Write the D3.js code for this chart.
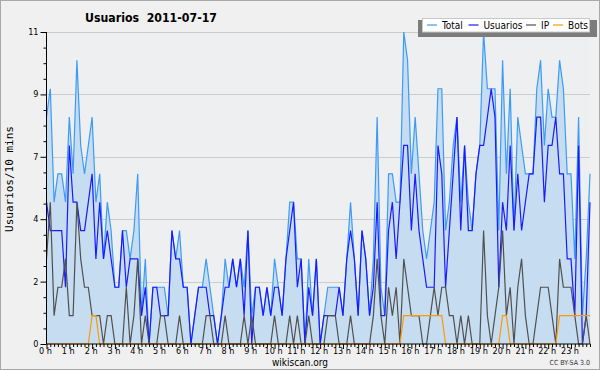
<!DOCTYPE html>
<html>
<head>
<meta charset="utf-8">
<script src="https://cdn.jsdelivr.net/npm/d3@7"></script>
<style>
	body { margin: 0; background: #f0f0f0; }
	svg text { font-family: "DejaVu Sans Condensed", "DejaVu Sans", sans-serif; font-stretch: condensed; }
</style>
</head>
<body>
<svg width="600" height="370"></svg>
<script>
// 10-minute slots, 2011-07-17
var hourLabels = d3.range(0, 24).map(function (h) { return h + " h"; });
var yTickLabels = ["0", "2", "4", "7", "9", "11"];

var total = [
	8, 9, 5, 6, 6, 5, 8, 6, 10, 7, 6, 7, 8, 5, 6, 3, 5, 4, 2, 2, 4, 4, 3, 4,
	6, 1, 3, 0, 2, 2, 2, 2, 1, 4, 3, 4, 2, 2, 0, 1, 2, 2, 3, 2, 1, 0, 1, 3,
	2, 3, 2, 3, 2, 4, 1, 2, 2, 1, 2, 1, 3, 2, 1, 3, 5, 5, 3, 3, 0, 3, 1, 3,
	0, 1, 2, 2, 2, 2, 1, 3, 5, 3, 1, 4, 3, 1, 3, 8, 2, 1, 6, 6, 5, 5, 11, 10,
	6, 8, 6, 4, 3, 4, 5, 9, 9, 4, 5, 7, 8, 5, 7, 5, 4, 6, 7, 11, 9, 9, 9, 4,
	10, 6, 9, 4, 8, 7, 6, 6, 6, 9, 10, 7, 9, 8, 8, 10, 9, 6, 6, 3, 8, 1, 3, 6
];
var usuarios = [
	5, 4, 4, 4, 4, 2, 7, 5, 5, 4, 4, 5, 6, 3, 5, 3, 4, 3, 2, 2, 4, 2, 3, 3,
	3, 1, 2, 0, 2, 2, 1, 1, 1, 4, 3, 3, 2, 2, 0, 1, 2, 2, 2, 1, 1, 0, 1, 2,
	2, 3, 2, 3, 1, 4, 0, 2, 2, 1, 2, 1, 2, 2, 1, 3, 4, 5, 2, 3, 0, 2, 1, 3,
	0, 1, 1, 1, 1, 2, 1, 3, 4, 3, 1, 4, 3, 1, 2, 5, 1, 1, 4, 5, 3, 5, 7, 7,
	4, 6, 4, 3, 2, 2, 2, 7, 6, 2, 4, 6, 8, 4, 7, 4, 4, 6, 7, 7, 8, 9, 8, 2,
	5, 4, 7, 4, 6, 4, 5, 6, 6, 8, 8, 5, 7, 7, 8, 6, 6, 3, 3, 1, 7, 0, 1, 5
];
var ip = [
	3, 5, 1, 2, 2, 3, 1, 1, 5, 3, 2, 2, 1, 1, 1, 0, 1, 1, 0, 0, 0, 2, 0, 1,
	3, 0, 1, 0, 0, 0, 1, 1, 0, 0, 0, 1, 0, 0, 0, 0, 0, 0, 1, 1, 0, 0, 0, 1,
	0, 0, 0, 0, 1, 0, 1, 0, 0, 0, 0, 0, 1, 0, 0, 0, 1, 0, 1, 0, 0, 1, 0, 0,
	0, 0, 1, 1, 1, 0, 0, 0, 1, 0, 0, 0, 0, 0, 1, 3, 1, 0, 2, 1, 2, 0, 3, 2,
	1, 1, 1, 0, 0, 1, 2, 1, 2, 2, 1, 1, 0, 1, 0, 1, 0, 0, 0, 4, 1, 0, 1, 2,
	4, 1, 2, 0, 2, 3, 1, 0, 0, 1, 2, 2, 2, 1, 0, 3, 2, 2, 2, 1, 0, 0, 1, 0
];
var bots = [
	0, 0, 0, 0, 0, 0, 0, 0, 0, 0, 0, 0, 1, 1, 0, 0, 0, 0, 0, 0, 0, 0, 0, 0,
	0, 0, 0, 0, 0, 0, 0, 0, 0, 0, 0, 0, 0, 0, 0, 0, 0, 0, 0, 0, 0, 0, 0, 0,
	0, 0, 0, 0, 0, 0, 0, 0, 0, 0, 0, 0, 0, 0, 0, 0, 0, 0, 0, 0, 0, 0, 0, 0,
	0, 0, 0, 0, 0, 0, 0, 0, 0, 0, 0, 0, 0, 0, 0, 0, 0, 0, 0, 0, 0, 0, 1, 1,
	1, 1, 1, 1, 1, 1, 1, 1, 1, 0, 0, 0, 0, 0, 0, 0, 0, 0, 0, 0, 0, 0, 0, 0,
	1, 1, 0, 0, 0, 0, 0, 0, 0, 0, 0, 0, 0, 0, 0, 1, 1, 1, 1, 1, 1, 1, 1, 1
];

var series = [
	{ name: "Total", values: total, color: "#3d9bf5" },
	{ name: "Usuarios", values: usuarios, color: "#1a1aff" },
	{ name: "IP", values: ip, color: "#505050" },
	{ name: "Bots", values: bots, color: "#ff9900" }
];

function drawChart() {
	var svg = d3.select("svg");
	var left = 46.5, right = 590, top = 32, bottom = 344;

	// frame
	svg.append("rect").attr("x", 0.5).attr("y", 0.5).attr("width", 599).attr("height", 369)
		.attr("fill", "#f0f0f0").attr("stroke", "#a8a8a8");
	svg.append("rect").attr("x", left).attr("y", top).attr("width", right - left).attr("height", bottom - top)
		.attr("fill", "#eeeff1");

	var x = d3.scaleLinear().domain([0, 143]).range([left, right]);
	var y = d3.scaleLinear().domain([0, 11]).range([bottom, top]);

	var yTicks = d3.range(0, 21).map(function (k) { return k * 11 / 20; });
	var yMajor = yTicks.filter(function (d, k) { return k % 4 === 0; });

	// grid
	svg.append("g").selectAll("line").data(yMajor.slice(1)).enter().append("line")
		.attr("x1", left).attr("x2", right)
		.attr("y1", function (d) { return Math.round(y(d)) + 0.5; })
		.attr("y2", function (d) { return Math.round(y(d)) + 0.5; })
		.attr("stroke", "#cccccc");

	// area under total
	var area = d3.area()
		.x(function (d, i) { return x(i); })
		.y0(bottom)
		.y1(function (d) { return y(d); });
	svg.append("path").datum(total).attr("fill", "#c6ddf1").attr("d", area);

	var line = d3.line()
		.x(function (d, i) { return x(i); })
		.y(function (d) { return y(d); });

	series.forEach(function (s) {
		svg.append("path").datum(s.values)
			.attr("fill", "none")
			.attr("stroke", s.color)
			.attr("stroke-width", 1.2)
			.attr("d", line);
	});

	// y axis
	var yAxis = d3.axisLeft(y).tickValues(yTicks).tickSize(3).tickFormat("");
	var gy = svg.append("g").attr("transform", "translate(" + left + ",0)").call(yAxis);
	gy.selectAll("line").attr("stroke", "#000").attr("x2", function (d) {
		return yMajor.indexOf(d) >= 0 ? -6 : -3;
	});
	gy.select(".domain").attr("stroke", "#000").attr("d", "M0," + top + "V" + bottom);
	svg.append("g").selectAll("text").data(yMajor).enter().append("text")
		.attr("x", left - 8)
		.attr("y", function (d) { return y(d) + 3; })
		.attr("text-anchor", "end")
		.attr("font-size", "9px")
		.attr("fill", "#000")
		.text(function (d, i) { return yTickLabels[i]; });

	// x axis
	var xAxis = d3.axisBottom(x).tickValues(d3.range(0, 144)).tickSize(3).tickFormat("");
	var gx = svg.append("g").attr("transform", "translate(0," + bottom + ")").call(xAxis);
	gx.selectAll("line").attr("stroke", "#000").attr("y2", function (d) { return d % 6 === 0 ? 5 : 3; });
	gx.select(".domain").attr("stroke", "#000").attr("d", "M" + left + ",0H" + right);
	svg.append("g").selectAll("text").data(hourLabels).enter().append("text")
		.attr("x", function (d, h) { return x(h * 6) - 1; })
		.attr("y", bottom + 10)
		.attr("text-anchor", "middle")
		.attr("font-size", "9px")
		.attr("fill", "#000")
		.text(function (d) { return d; });

	// titles
	svg.append("text").attr("x", 85).attr("y", 22)
		.attr("font-size", "13px").attr("font-weight", "bold")
		.attr("xml:space", "preserve")
		.attr("textLength", 132).attr("lengthAdjust", "spacingAndGlyphs")
		.text("Usuarios  2011-07-17");
	svg.append("text")
		.attr("transform", "translate(13,179) rotate(-90)")
		.attr("text-anchor", "middle")
		.attr("font-size", "11px")
		.style("font-family", "'DejaVu Sans Mono', monospace")
		.style("font-stretch", "normal")
		.text("Usuarios/10 mins");
	svg.append("text").attr("x", 300).attr("y", 366)
		.attr("text-anchor", "middle").attr("font-size", "10px")
		.text("wikiscan.org");
	svg.append("text").attr("x", 590).attr("y", 365)
		.attr("text-anchor", "end").attr("font-size", "7px").attr("fill", "#333")
		.text("CC BY-SA 3.0");

	// legend
	var lg = svg.append("g").attr("transform", "translate(422,18)");
	lg.append("rect").attr("x", -4).attr("y", 2).attr("width", 179).attr("height", 17).attr("fill", "#7c7c7c");
	lg.append("rect").attr("x", 0.5).attr("y", 0.5).attr("width", 167).attr("height", 13.5)
		.attr("fill", "#ffffff").attr("stroke", "#c8c8c8");
	var legendX = [5, 46.5, 104, 131];
	series.forEach(function (s, i) {
		lg.append("line").attr("x1", legendX[i]).attr("x2", legendX[i] + 10)
			.attr("y1", 7).attr("y2", 7).attr("stroke", s.color).attr("stroke-width", 1.2);
		lg.append("text").attr("x", legendX[i] + 15).attr("y", 11)
			.attr("font-size", "10px").text(s.name);
	});
}

drawChart();
</script>
</body>
</html>
